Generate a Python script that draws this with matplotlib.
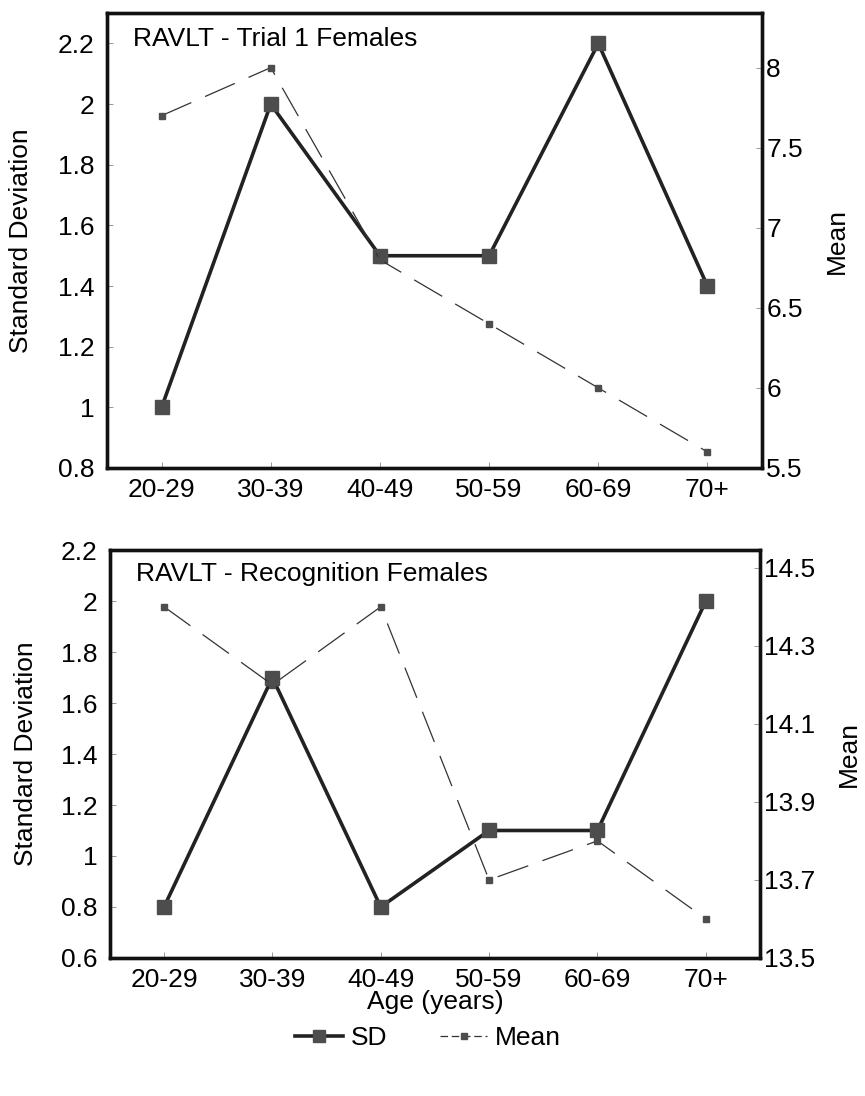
import matplotlib
matplotlib.use("Agg")
import matplotlib.pyplot as plt
from matplotlib.lines import Line2D

plt.rcParams['font.family'] = ['Liberation Sans', 'DejaVu Sans']

ages = ["20-29", "30-39", "40-49", "50-59", "60-69", "70+"]

trial1_sd = [1.0, 2.0, 1.5, 1.5, 2.2, 1.4]
trial1_mean = [7.7, 8.0, 6.8, 6.4, 6.0, 5.6]

recog_sd = [0.8, 1.7, 0.8, 1.1, 1.1, 2.0]
recog_mean = [14.4, 14.2, 14.4, 13.7, 13.8, 13.6]

sd_ticks_top = [0.8, 1, 1.2, 1.4, 1.6, 1.8, 2, 2.2]
mean_ticks_top = [5.5, 6, 6.5, 7, 7.5, 8]
sd_ticks_bot = [0.6, 0.8, 1, 1.2, 1.4, 1.6, 1.8, 2, 2.2]
mean_ticks_bot = [13.5, 13.7, 13.9, 14.1, 14.3, 14.5]

LINE = "#222222"
MARK = "#4d4d4d"
FS = 19


def fmt(v):
    return f"{v:g}"


def panel(ax, sd, mean, title, sd_lim, mean_lim, sd_ticks, mean_ticks,
          sd_lab_x, mean_lab_x):
    x = list(range(len(ages)))
    ax.plot(x, sd, color=LINE, lw=2.6, marker="s", ms=9.5,
            mfc=MARK, mec=MARK, zorder=3)
    ax2 = ax.twinx()
    ax2.plot(x, mean, color="#333333", lw=0.9, dashes=(26, 12), marker="s", ms=5,
             mfc=MARK, mec=MARK, zorder=3)

    ax.set_xlim(-0.5, 5.5)
    ax.set_ylim(*sd_lim)
    ax2.set_ylim(*mean_lim)
    ax.set_xticks(x, ages)
    ax.set_yticks(sd_ticks, [fmt(t) for t in sd_ticks])
    ax2.set_yticks(mean_ticks, [fmt(t) for t in mean_ticks])

    for a in (ax, ax2):
        a.tick_params(direction="in", length=4, width=0.6, labelsize=FS,
                      color="#888888")
        for s in a.spines.values():
            s.set_linewidth(2.4)
            s.set_color("#111111")
    ax.tick_params(axis="y", pad=9)
    ax.tick_params(axis="x", pad=7)
    ax2.tick_params(axis="y", pad=3)

    ax.set_ylabel("Standard Deviation", fontsize=FS)
    ax.yaxis.set_label_coords(sd_lab_x, 0.5)
    ax2.set_ylabel("Mean", fontsize=FS)
    ax2.yaxis.set_label_coords(mean_lab_x, 0.5)
    ax.text(0.04, 0.97, title, transform=ax.transAxes, fontsize=FS,
            ha="left", va="top")
    return ax2


fig = plt.figure(figsize=(8.65, 10.96), dpi=100)
ax_top = fig.add_axes([0.1237, 0.573, 0.7573, 0.415])
ax_bot = fig.add_axes([0.127, 0.126, 0.7516, 0.372])

panel(ax_top, trial1_sd, trial1_mean, "RAVLT - Trial 1 Females",
      (0.8, 2.3), (5.5, 8.34), sd_ticks_top, mean_ticks_top, -0.113, 1.096)
panel(ax_bot, recog_sd, recog_mean, "RAVLT - Recognition Females",
      (0.6, 2.2), (13.5, 14.545), sd_ticks_bot, mean_ticks_bot, -0.111, 1.118)

ax_bot.set_xlabel("Age (years)", fontsize=FS, labelpad=-1)

handles = [
    Line2D([], [], color=LINE, lw=2.6, marker="s", ms=8, mfc=MARK, mec=MARK),
    Line2D([], [], color="#333333", lw=0.9, dashes=(6, 3), marker="s", ms=5,
           mfc=MARK, mec=MARK),
]
fig.legend(handles, ["SD", "Mean"], loc="center", bbox_to_anchor=(0.495, 0.053),
           ncol=2, frameon=False, fontsize=FS, handlelength=1.8,
           handletextpad=0.3, columnspacing=2.0)

fig.savefig("out.png", dpi=100)
